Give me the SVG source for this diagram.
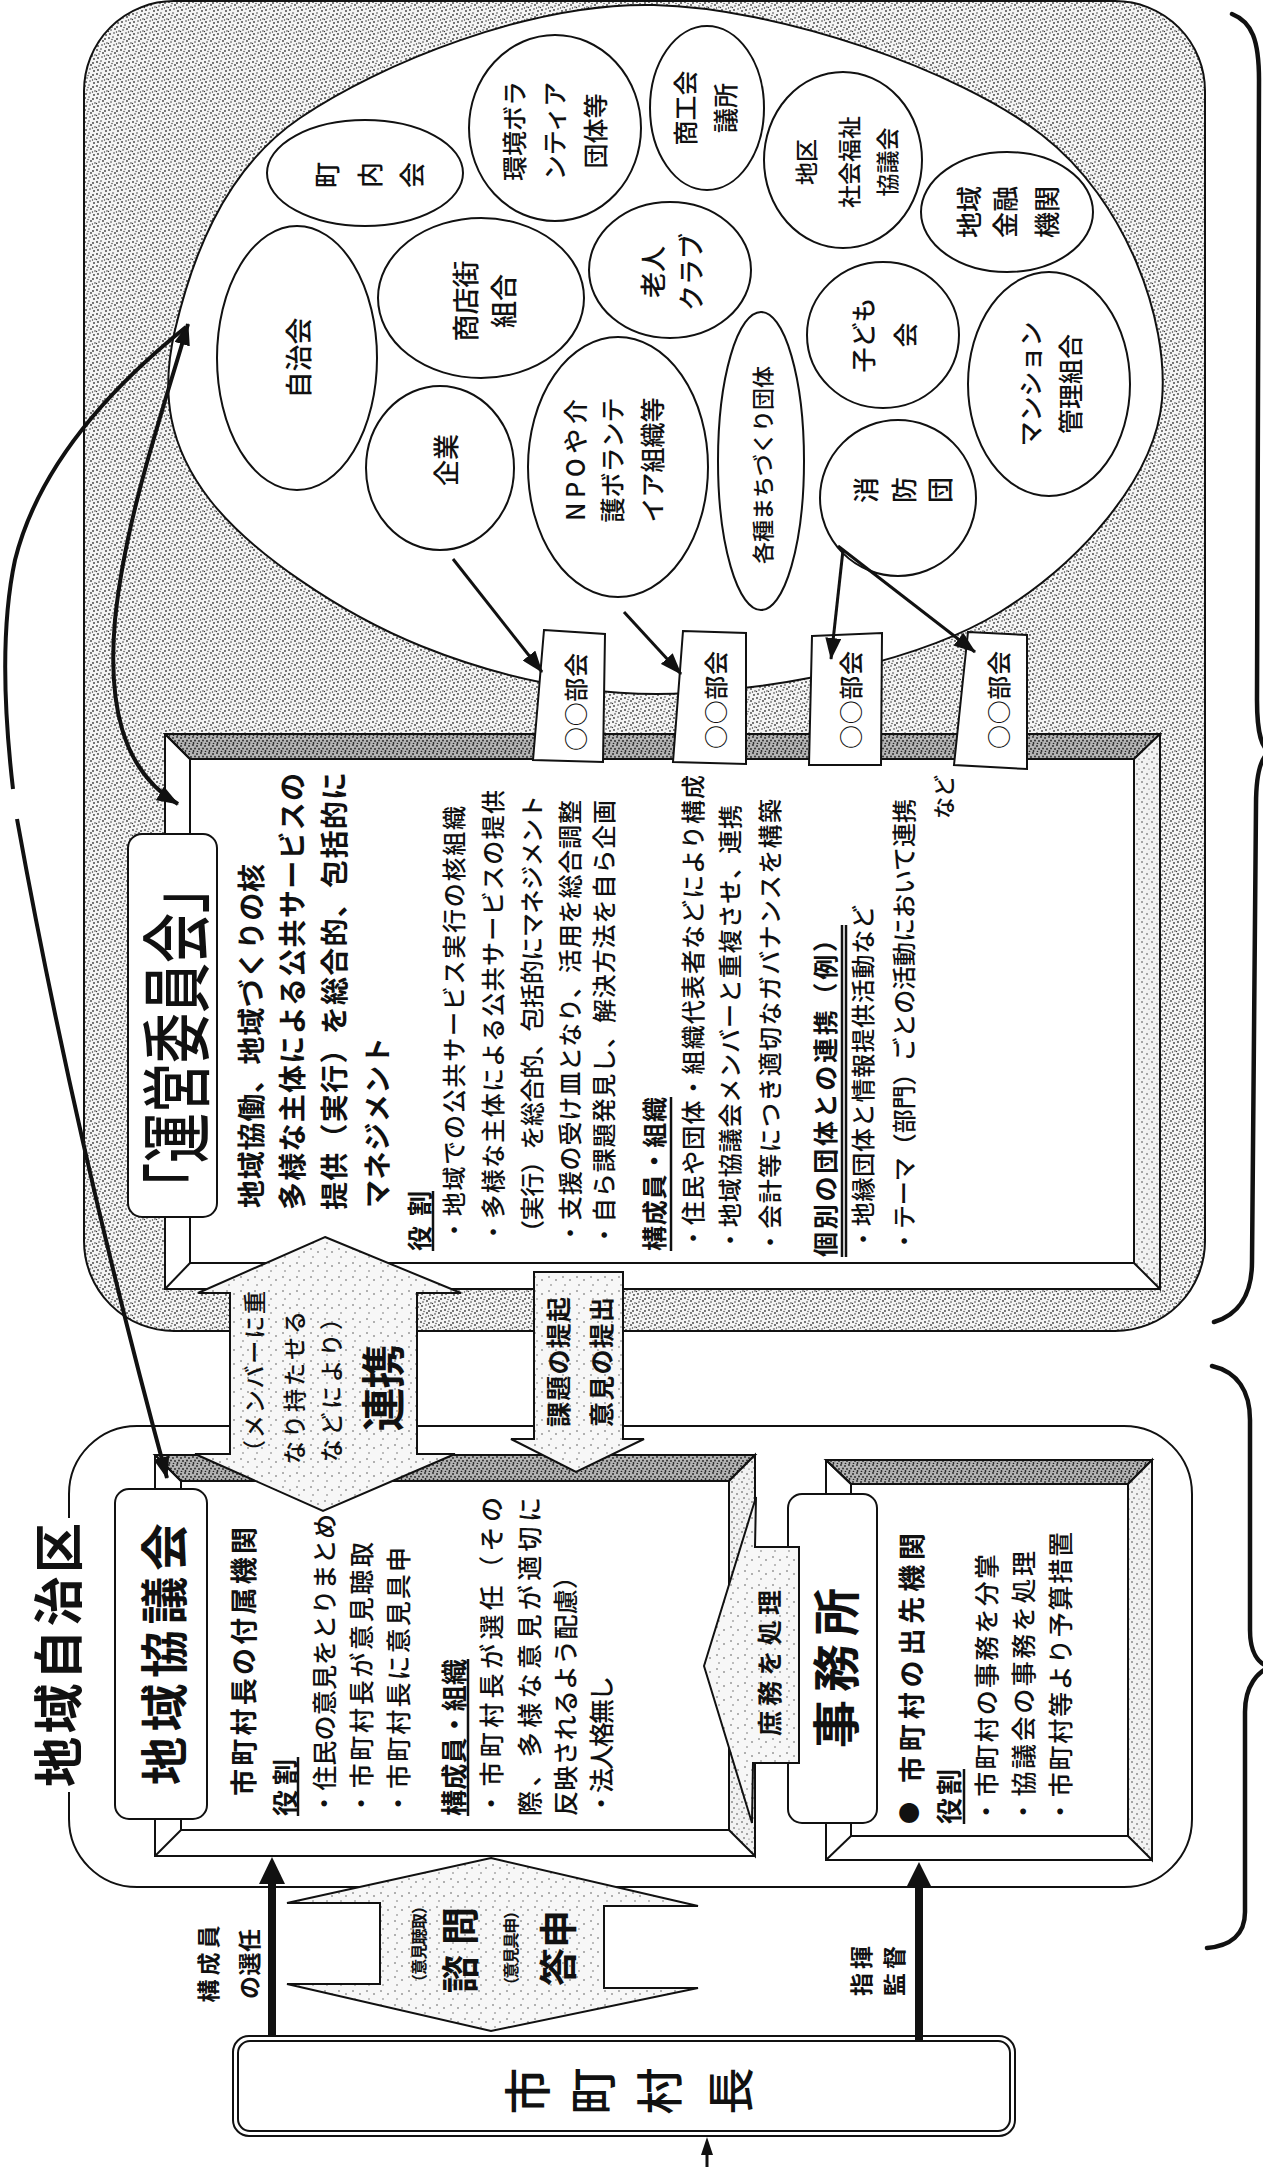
<svg xmlns="http://www.w3.org/2000/svg" width="1263" height="2167" viewBox="0 0 1263 2167">
<defs>
<style>
.t{font-family:"Noto Sans CJK JP","Noto Sans CJK SC",sans-serif;dominant-baseline:central;fill:#111;}
.b{font-weight:700;}
.m{font-weight:500;}
.w{fill:#fff;stroke:#111;stroke-width:2;}
.ln{fill:none;stroke:#111;stroke-width:2;}
.ul{stroke:#111;stroke-width:2.5;}
.con{fill:none;stroke:#111;stroke-width:4;}
.thin{fill:none;stroke:#111;stroke-width:3;}
.dark{fill:url(#stipDark);stroke:#111;stroke-width:2;}
.light{fill:url(#stipLight);stroke:#111;stroke-width:2;}
.pale{fill:url(#stipPale);stroke:#111;stroke-width:2;}
.brace{fill:none;stroke:#111;stroke-width:4.5;stroke-linecap:round;}
</style>
<pattern id="stip" width="12" height="12" patternUnits="userSpaceOnUse">
<rect width="12" height="12" fill="#f4f4f4"/>
<g fill="#3a3a3a"><circle cx="1" cy="2" r="0.9"/><circle cx="5" cy="1" r="0.8"/><circle cx="9" cy="3" r="0.9"/><circle cx="3" cy="6" r="0.8"/><circle cx="7" cy="5" r="0.9"/><circle cx="11" cy="7" r="0.8"/><circle cx="2" cy="10" r="0.9"/><circle cx="6" cy="9" r="0.8"/><circle cx="10" cy="11" r="0.9"/><circle cx="8.5" cy="8" r="0.7"/><circle cx="4" cy="3.5" r="0.7"/><circle cx="0.5" cy="7.5" r="0.7"/></g>
</pattern>
<pattern id="stipDark" width="8" height="8" patternUnits="userSpaceOnUse">
<rect width="8" height="8" fill="#b4b4b4"/>
<g fill="#222"><circle cx="1" cy="1" r="0.9"/><circle cx="5" cy="2" r="0.9"/><circle cx="3" cy="4.5" r="0.9"/><circle cx="7" cy="5" r="0.9"/><circle cx="1.5" cy="7" r="0.9"/><circle cx="5.5" cy="7.5" r="0.8"/></g>
</pattern>
<pattern id="stipLight" width="10" height="10" patternUnits="userSpaceOnUse">
<rect width="10" height="10" fill="#f2f2f2"/>
<g fill="#444"><circle cx="2" cy="2" r="0.8"/><circle cx="7" cy="4" r="0.8"/><circle cx="4" cy="8" r="0.8"/><circle cx="9" cy="9" r="0.6"/></g>
</pattern>
<pattern id="stipPale" width="14" height="14" patternUnits="userSpaceOnUse">
<rect width="14" height="14" fill="#f7f7f7"/>
<g fill="#555"><circle cx="3" cy="3" r="0.8"/><circle cx="10" cy="6" r="0.8"/><circle cx="5" cy="11" r="0.7"/></g>
</pattern>
<marker id="ah" markerUnits="userSpaceOnUse" markerWidth="22" markerHeight="16" viewBox="0 0 22 16" refX="21" refY="8" orient="auto-start-reverse"><path d="M0,0 L22,8 L0,16 z" fill="#111"/></marker>
</defs>
<rect width="1263" height="2167" fill="#fff"/>

<g id="unei-region">
<rect x="84" y="1" width="1121" height="1330" rx="90" fill="url(#stip)" stroke="#111" stroke-width="2"/>
<path class="w" d="M654,5 C777.7,7.8 957.3,69.2 1042,135 C1126.7,200.8 1169,320.5 1162,400 C1155,479.5 1078.7,563.2 1000,612 C921.3,660.8 786.5,687.3 690,693 C593.5,698.7 501,678.2 421,646 C341,613.8 251,552.7 210,500 C169,447.3 160,393.7 175,330 C190,266.3 220.2,172.2 300,118 C379.8,63.8 530.3,2.2 654,5 Z"/>
</g>

<g id="org-chonaikai"><ellipse class="w" cx="365" cy="173" rx="98" ry="53"/>
<text class="t m" font-size="26" text-anchor="middle" transform="translate(325,175) rotate(-90)">町</text>
<text class="t m" font-size="26" text-anchor="middle" transform="translate(368,175) rotate(-90)">内</text>
<text class="t m" font-size="26" text-anchor="middle" transform="translate(410,175) rotate(-90)">会</text></g>
<g id="org-jichikai"><ellipse class="w" cx="297" cy="358" rx="80" ry="132"/>
<text class="t m" font-size="27" text-anchor="middle" transform="translate(297,358) rotate(-90)">自治会</text></g>
<g id="org-kankyo"><ellipse class="w" cx="555" cy="128" rx="86" ry="93"/>
<text class="t m" font-size="25" text-anchor="middle" transform="translate(513,131) rotate(-90)">環境ボラ</text>
<text class="t m" font-size="25" text-anchor="middle" transform="translate(553,131) rotate(-90)">ンティア</text>
<text class="t m" font-size="25" text-anchor="middle" transform="translate(594,131) rotate(-90)">団体等</text></g>
<g id="org-shokokai"><ellipse class="w" cx="707" cy="108" rx="57" ry="82"/>
<text class="t m" font-size="25" text-anchor="middle" transform="translate(684,108) rotate(-90)">商工会</text>
<text class="t m" font-size="25" text-anchor="middle" transform="translate(724,108) rotate(-90)">議所</text></g>
<g id="org-shakyo"><ellipse class="w" cx="843" cy="160" rx="79" ry="88"/>
<text class="t m" font-size="23" text-anchor="middle" transform="translate(805,162) rotate(-90)">地区</text>
<text class="t m" font-size="23" text-anchor="middle" transform="translate(848,162) rotate(-90)">社会福祉</text>
<text class="t m" font-size="23" text-anchor="middle" transform="translate(886,162) rotate(-90)">協議会</text></g>
<g id="org-kinyu"><ellipse class="w" cx="1007" cy="212" rx="86" ry="60"/>
<text class="t m" font-size="26" text-anchor="middle" transform="translate(967,212) rotate(-90)">地域</text>
<text class="t m" font-size="26" text-anchor="middle" transform="translate(1003,212) rotate(-90)">金融</text>
<text class="t m" font-size="26" text-anchor="middle" transform="translate(1045,212) rotate(-90)">機関</text></g>
<g id="org-shotengai"><ellipse class="w" cx="481" cy="298" rx="103" ry="80"/>
<text class="t m" font-size="27" text-anchor="middle" transform="translate(464,301) rotate(-90)">商店街</text>
<text class="t m" font-size="27" text-anchor="middle" transform="translate(502,301) rotate(-90)">組合</text></g>
<g id="org-rojin"><ellipse class="w" cx="670" cy="270" rx="81" ry="68"/>
<text class="t m" font-size="26" text-anchor="middle" transform="translate(651,272) rotate(-90)">老人</text>
<text class="t m" font-size="26" text-anchor="middle" transform="translate(689,272) rotate(-90)">クラブ</text></g>
<g id="org-kodomo"><ellipse class="w" cx="883" cy="335" rx="76" ry="73"/>
<text class="t m" font-size="25" text-anchor="middle" transform="translate(862,335) rotate(-90)">子ども</text>
<text class="t m" font-size="25" text-anchor="middle" transform="translate(904,335) rotate(-90)">会</text></g>
<g id="org-mansion"><ellipse class="w" cx="1049" cy="384" rx="81" ry="112"/>
<text class="t m" font-size="25" text-anchor="middle" transform="translate(1029,384) rotate(-90)">マンション</text>
<text class="t m" font-size="25" text-anchor="middle" transform="translate(1069,384) rotate(-90)">管理組合</text></g>
<g id="org-shobodan"><ellipse class="w" cx="898" cy="498" rx="78" ry="78"/>
<text class="t m" font-size="26" text-anchor="middle" transform="translate(864,490) rotate(-90)">消</text>
<text class="t m" font-size="26" text-anchor="middle" transform="translate(902,490) rotate(-90)">防</text>
<text class="t m" font-size="26" text-anchor="middle" transform="translate(938,490) rotate(-90)">団</text></g>
<g id="org-kigyo"><ellipse class="w" cx="440" cy="468" rx="74" ry="82"/>
<text class="t m" font-size="26" text-anchor="middle" transform="translate(444,460) rotate(-90)">企業</text></g>
<g id="org-npo"><ellipse class="w" cx="618" cy="467" rx="90" ry="130"/>
<text class="t m" font-size="25" text-anchor="middle" transform="translate(574,460) rotate(-90)" textLength="122" lengthAdjust="spacing">NPOや介</text>
<text class="t m" font-size="25" text-anchor="middle" transform="translate(611,460) rotate(-90)">護ボランテ</text>
<text class="t m" font-size="25" text-anchor="middle" transform="translate(651,460) rotate(-90)">イア組織等</text></g>
<g id="org-machizukuri"><ellipse class="w" cx="761" cy="461" rx="43" ry="149"/>
<text class="t m" font-size="22" text-anchor="middle" transform="translate(761,465) rotate(-90)">各種まちづくり団体</text></g>

<g id="unei-frame">
<rect x="165" y="734" width="995" height="555" class="w"/>
<polygon class="dark" points="165,734 1160,734 1134,759 190,759"/>
<polygon class="light" points="1160,734 1160,1289 1134,1263 1134,759"/>
<rect x="190" y="759" width="944" height="504" class="w"/>
<line class="ln" x1="165" y1="1289" x2="190" y2="1263"/>
<line class="ln" x1="165" y1="734" x2="190" y2="759"/>
</g>
<g id="unei-title">
<rect x="128" y="834" width="89" height="383" rx="14" class="w"/>
<text class="t m" font-size="70" text-anchor="middle" transform="translate(172,1038) rotate(-90)" textLength="350" lengthAdjust="spacingAndGlyphs">「運営委員会」</text>
</g>
<g id="unei-text">
<text class="t b" font-size="28" transform="translate(250,1208) rotate(-90)" textLength="344" lengthAdjust="spacing">地域協働、地域づくりの核</text>
<text class="t b" font-size="28" transform="translate(291,1210) rotate(-90)" textLength="437" lengthAdjust="spacing">多様な主体による公共サービスの</text>
<text class="t b" font-size="28" transform="translate(333,1210) rotate(-90)" textLength="438" lengthAdjust="spacing">提供（実行）を総合的、包括的に</text>
<text class="t b" font-size="28" transform="translate(376,1208) rotate(-90)" textLength="171" lengthAdjust="spacing">マネジメント</text>
<text class="t b" font-size="25" transform="translate(418,1251) rotate(-90)" textLength="60" lengthAdjust="spacing">役割</text>
<line class="ul" x1="433" y1="1251" x2="433" y2="1191"/>
<text class="t m" font-size="24" transform="translate(452,1242) rotate(-90)" textLength="436" lengthAdjust="spacing">・地域での公共サービス実行の核組織</text>
<text class="t m" font-size="24" transform="translate(491,1244) rotate(-90)" textLength="454" lengthAdjust="spacing">・多様な主体による公共サービスの提供</text>
<text class="t m" font-size="24" transform="translate(530,1244) rotate(-90)" textLength="449" lengthAdjust="spacing">（実行）を総合的、包括的にマネジメント</text>
<text class="t m" font-size="24" transform="translate(568,1245) rotate(-90)" textLength="445" lengthAdjust="spacing">・支援の受け皿となり、活用を総合調整</text>
<text class="t m" font-size="24" transform="translate(602,1247) rotate(-90)" textLength="447" lengthAdjust="spacing">・自ら課題発見し、解決方法を自ら企画</text>
<text class="t b" font-size="25" transform="translate(653,1251) rotate(-90)" textLength="154" lengthAdjust="spacing">構成員・組織</text>
<line class="ul" x1="671" y1="1251" x2="671" y2="1097"/>
<text class="t m" font-size="24" transform="translate(691,1250) rotate(-90)" textLength="475" lengthAdjust="spacing">・住民や団体・組織代表者などにより構成</text>
<text class="t m" font-size="24" transform="translate(728,1252) rotate(-90)" textLength="447" lengthAdjust="spacing">・地域協議会メンバーと重複させ、連携</text>
<text class="t m" font-size="24" transform="translate(768,1254) rotate(-90)" textLength="455" lengthAdjust="spacing">・会計等につき適切なガバナンスを構築</text>
<text class="t b" font-size="25" transform="translate(824,1257) rotate(-90)" textLength="330" lengthAdjust="spacing">個別の団体との連携（例）</text>
<line class="ul" x1="842" y1="1257" x2="842" y2="925"/>
<line class="ul" x1="846" y1="1257" x2="846" y2="925" stroke-width="1.5"/>
<text class="t m" font-size="24" transform="translate(861,1251) rotate(-90)" textLength="346" lengthAdjust="spacing">・地縁団体と情報提供活動など</text>
<text class="t m" font-size="24" transform="translate(902,1253) rotate(-90)" textLength="454" lengthAdjust="spacing">・テーマ（部門）ごとの活動において連携</text>
<text class="t m" font-size="22" text-anchor="end" transform="translate(942,775) rotate(-90)">など</text>
</g>

<g id="bukai-1"><polygon class="w" points="544,630 605,634 603,762 533,760"/>
<text class="t m" font-size="24" text-anchor="middle" transform="translate(574,702) rotate(-90)" textLength="98" lengthAdjust="spacing">○○部会</text></g>
<g id="bukai-2"><polygon class="w" points="683,631 746,633 746,764 673,762"/>
<text class="t m" font-size="24" text-anchor="middle" transform="translate(714,700) rotate(-90)" textLength="98" lengthAdjust="spacing">○○部会</text></g>
<g id="bukai-3"><polygon class="w" points="812,636 882,633 881,765 809,765"/>
<text class="t m" font-size="24" text-anchor="middle" transform="translate(849,700) rotate(-90)" textLength="98" lengthAdjust="spacing">○○部会</text></g>
<g id="bukai-4"><polygon class="w" points="968,632 1027,635 1027,769 954,765"/>
<text class="t m" font-size="24" text-anchor="middle" transform="translate(997,700) rotate(-90)" textLength="98" lengthAdjust="spacing">○○部会</text></g>

<g id="jichiku">
<rect x="69" y="1426" width="1123" height="461" rx="68" class="w"/>
</g>

<g id="kyogikai">
<rect x="155" y="1455" width="600" height="401" class="w"/>
<polygon class="dark" points="155,1455 755,1455 729,1481 181,1481"/>
<polygon class="light" points="755,1455 755,1856 729,1830 729,1481"/>
<rect x="181" y="1481" width="548" height="349" class="w"/>
<line class="ln" x1="155" y1="1856" x2="181" y2="1830"/>
<line class="ln" x1="155" y1="1455" x2="181" y2="1481"/>
<rect x="115" y="1489" width="92" height="330" rx="14" class="w"/>
<text class="t b" font-size="48" text-anchor="middle" transform="translate(161,1654) rotate(-90)" textLength="262" lengthAdjust="spacing">地域協議会</text>
<text class="t b" font-size="27" transform="translate(242,1796) rotate(-90)" textLength="269" lengthAdjust="spacing">市町村長の付属機関</text>
<text class="t b" font-size="26" transform="translate(283,1816) rotate(-90)" textLength="57" lengthAdjust="spacing">役割</text>
<line class="ul" x1="298" y1="1816" x2="298" y2="1757"/>
<text class="t m" font-size="25" transform="translate(323,1816) rotate(-90)" textLength="302" lengthAdjust="spacing">・住民の意見をとりまとめ</text>
<text class="t m" font-size="25" transform="translate(360,1816) rotate(-90)" textLength="274" lengthAdjust="spacing">・市町村長が意見聴取</text>
<text class="t m" font-size="25" transform="translate(397,1816) rotate(-90)" textLength="269" lengthAdjust="spacing">・市町村長に意見具申</text>
<text class="t b" font-size="26" transform="translate(452,1816) rotate(-90)" textLength="157" lengthAdjust="spacing">構成員・組織</text>
<line class="ul" x1="468" y1="1816" x2="468" y2="1659"/>
<text class="t m" font-size="25" transform="translate(490,1816) rotate(-90)" textLength="319" lengthAdjust="spacing">・市町村長が選任（その</text>
<text class="t m" font-size="25" transform="translate(528,1816) rotate(-90)" textLength="319" lengthAdjust="spacing">際、多様な意見が適切に</text>
<text class="t m" font-size="25" transform="translate(564,1816) rotate(-90)" textLength="252" lengthAdjust="spacing">反映されるよう配慮）</text>
<text class="t m" font-size="25" transform="translate(600,1816) rotate(-90)" textLength="140" lengthAdjust="spacing">・法人格無し</text>
</g>

<g id="jimusho">
<rect x="826" y="1460" width="326" height="400" class="w"/>
<polygon class="dark" points="826,1460 1152,1460 1128,1484 851,1484"/>
<polygon class="light" points="1152,1460 1152,1860 1128,1836 1128,1484"/>
<rect x="851" y="1484" width="277" height="352" class="w"/>
<line class="ln" x1="826" y1="1860" x2="851" y2="1836"/>
<line class="ln" x1="826" y1="1460" x2="851" y2="1484"/>
<rect x="788" y="1494" width="89" height="329" rx="14" class="w"/>
<text class="t b" font-size="48" text-anchor="middle" transform="translate(833,1668) rotate(-90)" textLength="160" lengthAdjust="spacing">事務所</text>
<text class="t" font-size="22" text-anchor="middle" transform="translate(907,1813) rotate(-90)">●</text>
<text class="t b" font-size="27" transform="translate(910,1783) rotate(-90)" textLength="250" lengthAdjust="spacing">市町村の出先機関</text>
<text class="t b" font-size="26" transform="translate(947,1824) rotate(-90)" textLength="55" lengthAdjust="spacing">役割</text>
<line class="ul" x1="964" y1="1824" x2="964" y2="1769"/>
<text class="t m" font-size="25" transform="translate(985,1824) rotate(-90)" textLength="270" lengthAdjust="spacing">・市町村の事務を分掌</text>
<text class="t m" font-size="25" transform="translate(1022,1824) rotate(-90)" textLength="273" lengthAdjust="spacing">・協議会の事務を処理</text>
<text class="t m" font-size="25" transform="translate(1059,1824) rotate(-90)" textLength="292" lengthAdjust="spacing">・市町村等より予算措置</text>
</g>

<g id="mayor">
<rect x="233" y="2036" width="782" height="100" rx="16" class="w"/>
<rect x="238" y="2041" width="772" height="90" rx="12" class="ln"/>
<text class="t m" font-size="47" text-anchor="middle" transform="translate(524,2091) rotate(-90)">市</text>
<text class="t m" font-size="47" text-anchor="middle" transform="translate(589,2091) rotate(-90)">町</text>
<text class="t m" font-size="47" text-anchor="middle" transform="translate(656,2091) rotate(-90)">村</text>
<text class="t m" font-size="47" text-anchor="middle" transform="translate(727,2091) rotate(-90)">長</text>
</g>

<g id="connectors">
<g id="arrow-renkei">
<polygon class="pale" points="325,1237 461,1293 417,1293 417,1454 455,1454 323,1511 195,1454 230,1454 230,1293 198,1293"/>
<text class="t m" font-size="23" transform="translate(253,1463) rotate(-90)" textLength="172" lengthAdjust="spacing">（メンバーに重</text>
<text class="t m" font-size="23" transform="translate(293,1464) rotate(-90)" textLength="153" lengthAdjust="spacing">なり持たせる</text>
<text class="t m" font-size="23" transform="translate(330,1462) rotate(-90)" textLength="155" lengthAdjust="spacing">などにより）</text>
<text class="t b" font-size="44" text-anchor="middle" transform="translate(381,1388) rotate(-90)" textLength="87" lengthAdjust="spacing">連携</text>
</g>
<g id="arrow-kadai">
<polygon class="pale" points="534,1272 623,1272 623,1439 644,1439 576,1472 511,1439 534,1439"/>
<text class="t b" font-size="25" transform="translate(557,1427) rotate(-90)" textLength="130" lengthAdjust="spacing">課題の提起</text>
<text class="t b" font-size="25" transform="translate(600,1427) rotate(-90)" textLength="130" lengthAdjust="spacing">意見の提出</text>
</g>
<g id="arrow-shomu">
<polygon class="pale" points="704,1666 756,1497 755,1547 799,1547 799,1763 753,1763 752,1823"/>
<text class="t b" font-size="25" text-anchor="middle" transform="translate(768,1663) rotate(-90)" textLength="146" lengthAdjust="spacing">庶務を処理</text>
</g>
<g id="arrow-shimon">
<polygon class="pale" points="491,1858 698,1906 604,1906 604,1988 698,1988 491,2031 287,1984 380,1984 380,1903 287,1903"/>
<text class="t b" font-size="16" text-anchor="middle" transform="translate(418,1944) rotate(-90)" textLength="92" lengthAdjust="spacing">（意見聴取）</text>
<text class="t b" font-size="38" text-anchor="middle" transform="translate(457,1950) rotate(-90)" textLength="86" lengthAdjust="spacing">諮問</text>
<text class="t b" font-size="16" text-anchor="middle" transform="translate(510,1948) rotate(-90)" textLength="90" lengthAdjust="spacing">（意見具申）</text>
<text class="t b" font-size="38" text-anchor="middle" transform="translate(555,1948) rotate(-90)" textLength="76" lengthAdjust="spacing">答申</text>
</g>
<g id="arrow-sennin">
<line x1="272" y1="2036" x2="272" y2="1880" stroke="#111" stroke-width="8"/>
<polygon points="272,1857 259,1884 285,1884" fill="#111"/>
<text class="t b" font-size="23" text-anchor="middle" transform="translate(207,1964) rotate(-90)" textLength="77" lengthAdjust="spacing">構成員</text>
<text class="t b" font-size="23" text-anchor="middle" transform="translate(248,1964) rotate(-90)" textLength="70" lengthAdjust="spacing">の選任</text>
</g>
<g id="arrow-shiki">
<line x1="919" y1="2040" x2="919" y2="1884" stroke="#111" stroke-width="8"/>
<polygon points="919,1862 906,1888 932,1888" fill="#111"/>
<text class="t b" font-size="23" text-anchor="middle" transform="translate(860,1971) rotate(-90)" textLength="50" lengthAdjust="spacing">指揮</text>
<text class="t b" font-size="23" text-anchor="middle" transform="translate(893,1971) rotate(-90)" textLength="50" lengthAdjust="spacing">監督</text>
</g>
<line x1="707" y1="2167" x2="707" y2="2152" stroke="#111" stroke-width="3"/>
<polygon points="707,2137 701,2155 713,2155" fill="#111"/>
<path class="con" d="M188,324 C160,420 125,520 115,620 C108,700 120,770 178,804" marker-start="url(#ah)" marker-end="url(#ah)"/>
<path class="con" d="M186,327 C120,380 40,460 15,560 C0,630 5,720 13,789"/>
<path class="con" d="M17,819 Q75,1140 167,1478" marker-end="url(#ah)"/>
<path class="thin" d="M453,559 L542,672" marker-end="url(#ah)"/>
<path class="thin" d="M624,612 L681,674" marker-end="url(#ah)"/>
<path class="thin" d="M843,550 L831,659" marker-end="url(#ah)"/>
<path class="thin" d="M838,546 L975,652" marker-end="url(#ah)"/>
</g>

<g id="braces">
<path class="brace" d="M1232,14 C1252,22 1259,40 1259,80 L1257,700 C1257,735 1262,748 1270,752 C1262,756 1256,770 1256,805 L1252,1262 C1252,1295 1238,1315 1214,1322"/>
<path class="brace" d="M1212,1366 C1238,1372 1250,1392 1250,1420 L1250,1630 C1250,1652 1258,1664 1270,1667 C1258,1672 1245,1685 1245,1712 L1245,1912 C1245,1935 1230,1946 1207,1948"/>
</g>

<g id="title-jichiku">
<rect x="30" y="1518" width="50" height="274" fill="#fff"/>
<text class="t b" font-size="50" text-anchor="middle" transform="translate(55,1655) rotate(-90)" textLength="264" lengthAdjust="spacing">地域自治区</text>
</g>
</svg>
